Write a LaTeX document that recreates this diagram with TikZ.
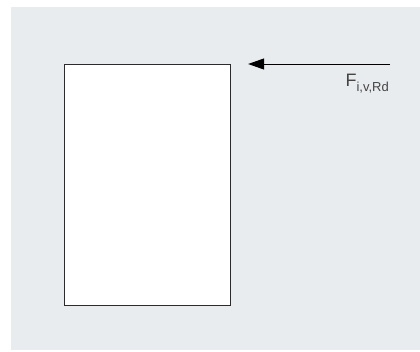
\documentclass[tikz,border=0pt]{standalone}
\usepackage{fontspec}
\setmainfont{Liberation Sans}
\usetikzlibrary{arrows.meta, positioning}

\definecolor{fondo}{HTML}{E9ECEF}
\definecolor{borde}{HTML}{2B2B2B}
\definecolor{texto}{HTML}{444444}

\begin{document}
\begin{tikzpicture}[
    x=1pt, y=-1pt,
    pieza/.style={
        draw=borde,
        line width=1.1pt,
        fill=white,
        minimum width=166pt,
        minimum height=241pt,
        inner sep=0pt
    },
    fuerza/.style={
        -{Triangle[length=16pt, width=11pt]},
        line width=1pt,
        draw=black
    },
    etiqueta/.style={
        text=texto,
        inner sep=0pt,
        font={\fontsize{18}{21}\selectfont}
    }
]

% Fondo y margenes
\useasboundingbox (0,0) rectangle (420,351);
\fill[fondo] (11,7) rectangle (420,350);

% Pieza
\node (pieza) [pieza, anchor=north west] at (64,64) {};

% Fuerza horizontal
\coordinate (inicio) at (390,64);
\coordinate (punta) at ([xshift=17pt]pieza.north east);
\draw[fuerza] (inicio) -- (punta);

\node (fuerzaF) [etiqueta, anchor=base east] at (389,86)
    {F\raisebox{-5pt}{\fontsize{13}{15}\selectfont i,v,Rd}};

\end{tikzpicture}
\end{document}
